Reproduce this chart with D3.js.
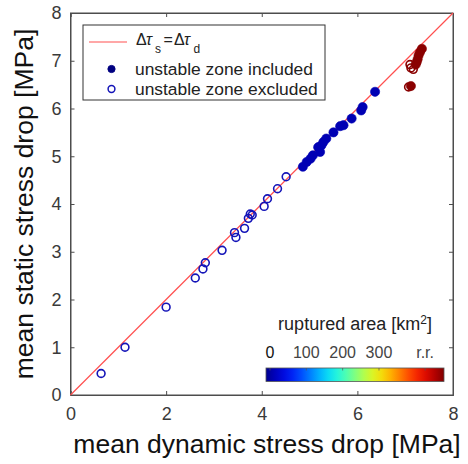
<!DOCTYPE html>
<html>
<head>
<meta charset="utf-8">
<script src="https://cdn.jsdelivr.net/npm/d3@7"></script>
<style>
  body { margin: 0; background: #fff; }
  text { font-family: "Liberation Sans", Arial, sans-serif; }
</style>
</head>
<body>
<svg id="chart" width="468" height="464"></svg>
<script>
// open blue circles: unstable zone excluded
let exclX = [0.64, 1.14, 2.00, 2.61, 2.77, 2.82, 3.17, 3.43, 3.46, 3.64, 3.72, 3.76, 3.80, 4.05, 4.12, 4.33, 4.51];
let exclY = [0.45, 1.00, 1.84, 2.45, 2.64, 2.77, 3.03, 3.40, 3.30, 3.49, 3.70, 3.79, 3.77, 3.95, 4.11, 4.32, 4.57];
// filled blue circles: unstable zone included
let inclX = [4.86, 4.94, 5.02, 5.07, 5.18, 5.22, 5.25, 5.29, 5.35, 5.50, 5.64, 5.71, 5.88, 6.08, 6.11, 6.37];
let inclY = [4.78, 4.88, 4.95, 5.02, 5.19, 5.09, 5.23, 5.30, 5.37, 5.50, 5.63, 5.65, 5.79, 5.96, 6.03, 6.35];
// ruptured region (dark red)
let rrExclX = [7.07, 7.10, 7.12, 7.17];
let rrExclY = [6.45, 6.92, 6.85, 6.82];
let rrInclX = [7.12, 7.22, 7.24, 7.26, 7.28, 7.31, 7.35];
let rrInclY = [6.47, 6.92, 6.97, 7.03, 7.11, 7.18, 7.25];

let xTicks = [0, 2, 4, 6, 8];
let yTicks = [0, 1, 2, 3, 4, 5, 6, 7, 8];
let cbarTicks = [0, 100, 200, 300];
let cbarEndLabel = "r.r.";
let jetStops = ["#00008f", "#0000ff", "#0080ff", "#00ffff", "#80ff80", "#ffff00", "#ff8000", "#ff0000", "#800000"];

let svg = d3.select("#chart");
let plotLeft = 70.5, plotRight = 453, plotTop = 13, plotBottom = 395;
let axisColor = "#4d4d4d";

let xScale = d3.scaleLinear().domain([0, 8]).range([plotLeft, plotRight]);
let yScale = d3.scaleLinear().domain([0, 8]).range([plotBottom, plotTop]);

// box
svg.append("rect")
    .attr("x", plotLeft).attr("y", plotTop)
    .attr("width", plotRight - plotLeft).attr("height", plotBottom - plotTop)
    .attr("fill", "none").attr("stroke", axisColor).attr("stroke-width", 1);

let xAxis = svg.append("g")
    .attr("transform", "translate(0," + plotBottom + ")")
    .call(d3.axisBottom(xScale).tickValues(xTicks).tickSize(-4).tickPadding(12));
let yAxis = svg.append("g")
    .attr("transform", "translate(" + plotLeft + ",0)")
    .call(d3.axisLeft(yScale).tickValues(yTicks).tickSize(-4).tickPadding(9));
let xTop = svg.append("g")
    .attr("transform", "translate(0," + plotTop + ")")
    .call(d3.axisTop(xScale).tickValues(xTicks).tickSize(-4).tickFormat(""));
let yRight = svg.append("g")
    .attr("transform", "translate(" + plotRight + ",0)")
    .call(d3.axisRight(yScale).tickValues(yTicks).tickSize(-4).tickFormat(""));

[xAxis, yAxis, xTop, yRight].forEach(function (g) {
    g.select(".domain").attr("stroke", axisColor);
    g.selectAll(".tick line").attr("stroke", axisColor);
    g.selectAll(".tick text").attr("fill", "#3a3a3a").style("font-size", "18px")
        .style("font-family", "Liberation Sans, Arial, sans-serif");
});

// 1:1 line
svg.append("line")
    .attr("x1", xScale(0)).attr("y1", yScale(0))
    .attr("x2", xScale(8)).attr("y2", yScale(8))
    .attr("stroke", "#ff5050").attr("stroke-width", 1.2);

let blueOpen = "#1414b8", blueFill = "#0000b4", darkRed = "#8a0000";

function drawPoints(xs, ys, filled, color) {
    svg.append("g").selectAll("circle")
        .data(xs.map(function (d, i) { return [d, ys[i]]; }))
        .enter()
        .append("circle")
        .attr("cx", function (d) { return xScale(d[0]); })
        .attr("cy", function (d) { return yScale(d[1]); })
        .attr("r", filled ? 4.6 : 3.9)
        .attr("fill", filled ? color : "none")
        .attr("stroke", color)
        .attr("stroke-width", filled ? 0.6 : 1.6);
}
drawPoints(exclX, exclY, false, blueOpen);
drawPoints(inclX, inclY, true, blueFill);
drawPoints(rrExclX, rrExclY, false, darkRed);
drawPoints(rrInclX, rrInclY, true, darkRed);

// legend
let legend = svg.append("g");
legend.append("rect")
    .attr("x", 83).attr("y", 25).attr("width", 242).attr("height", 75)
    .attr("fill", "#fff").attr("stroke", "#333").attr("stroke-width", 1);
legend.append("line")
    .attr("x1", 89).attr("x2", 127).attr("y1", 42).attr("y2", 42)
    .attr("stroke", "#ff5050").attr("stroke-width", 1.2);
let eq = legend.append("text").attr("y", 45)
    .style("font-size", "16px").attr("fill", "#222");
eq.append("tspan").attr("x", 136).text("\u0394");
eq.append("tspan").attr("x", 146).style("font-style", "italic").text("\u03c4");
eq.append("tspan").attr("x", 155).attr("y", 53).style("font-size", "12px").text("s");
eq.append("tspan").attr("x", 163.5).attr("y", 45).text("=");
eq.append("tspan").attr("x", 174).text("\u0394");
eq.append("tspan").attr("x", 184).style("font-style", "italic").text("\u03c4");
eq.append("tspan").attr("x", 193.5).attr("y", 53).style("font-size", "12px").text("d");
legend.append("circle").attr("cx", 111.5).attr("cy", 69).attr("r", 3.6)
    .attr("fill", "#000080").attr("stroke", "#000080");
legend.append("circle").attr("cx", 111.5).attr("cy", 89).attr("r", 3.4)
    .attr("fill", "none").attr("stroke", blueOpen).attr("stroke-width", 1.5);
legend.append("text").attr("x", 135).attr("y", 75).style("font-size", "17.4px")
    .attr("fill", "#222").text("unstable zone included");
legend.append("text").attr("x", 135).attr("y", 95).style("font-size", "17.4px")
    .attr("fill", "#222").text("unstable zone excluded");

// colorbar
let cScale = d3.scaleLinear().domain([-11, 479]).range([266, 444]);
let jet = d3.interpolateRgbBasis(jetStops);
let defs = svg.append("defs");
let grad = defs.append("linearGradient").attr("id", "jet");
d3.range(0, 1.0001, 0.05).forEach(function (t) {
    grad.append("stop").attr("offset", t).attr("stop-color", jet(t));
});
svg.append("rect")
    .attr("x", cScale(-11)).attr("y", 368)
    .attr("width", cScale(479) - cScale(-11)).attr("height", 13.5)
    .attr("fill", "url(#jet)").attr("stroke", "#555").attr("stroke-width", 0.8);
svg.append("g").selectAll("line")
    .data(cbarTicks.concat([427]))
    .enter().append("line")
    .attr("x1", function (d) { return cScale(d); })
    .attr("x2", function (d) { return cScale(d); })
    .attr("y1", 368).attr("y2", 370.5)
    .attr("stroke", "#555").attr("stroke-width", 0.7);
svg.append("g").selectAll("text")
    .data(cbarTicks)
    .enter().append("text")
    .attr("x", function (d) { return cScale(d); })
    .attr("y", 358)
    .attr("text-anchor", "middle")
    .style("font-size", "16px")
    .attr("fill", function (d) { return d === 0 ? "#111" : "#444"; })
    .text(function (d) { return d; });
svg.append("text").attr("x", cScale(427)).attr("y", 358)
    .attr("text-anchor", "middle").style("font-size", "16px").attr("fill", "#444")
    .text(cbarEndLabel);
let cTitle = svg.append("text").attr("x", 355).attr("y", 330)
    .attr("text-anchor", "middle").style("font-size", "18px").attr("fill", "#222");
cTitle.append("tspan").text("ruptured area [km");
cTitle.append("tspan").attr("dy", -6).style("font-size", "12px").text("2");
cTitle.append("tspan").attr("dy", 6).text("]");

// axis titles
svg.append("text")
    .attr("x", 267).attr("y", 453)
    .attr("text-anchor", "middle").style("font-size", "26.5px").attr("fill", "#111")
    .text("mean dynamic stress drop [MPa]");
svg.append("text")
    .attr("transform", "translate(33," + ((plotTop + plotBottom) / 2) + ") rotate(-90)")
    .attr("text-anchor", "middle").style("font-size", "26.5px").attr("fill", "#111")
    .text("mean static stress drop [MPa]");
</script>
</body>
</html>
